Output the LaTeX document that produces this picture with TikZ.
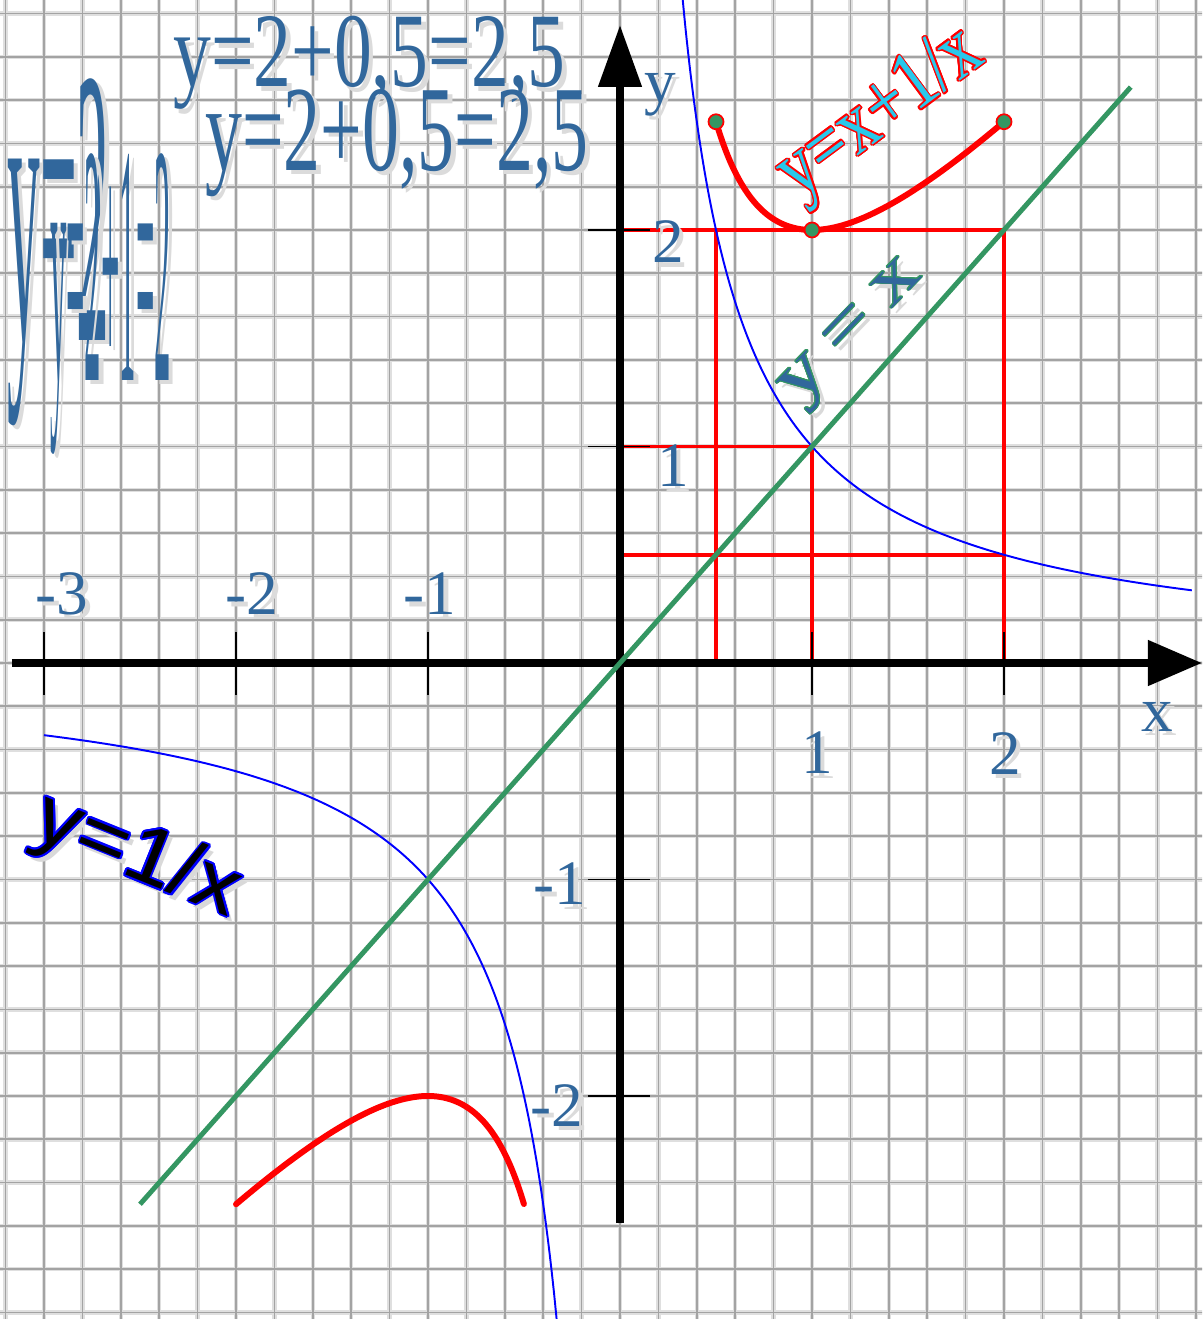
\documentclass[tikz,border=0pt]{standalone}
\usepackage{fontspec}
\setmainfont{Liberation Serif}
\newfontfamily\sansf{Liberation Sans}
\usepackage{contour}
\contournumber{16}
\usetikzlibrary{arrows.meta}

\definecolor{axblue}{RGB}{49,103,156}
\definecolor{lngreen}{RGB}{52,150,98}
\definecolor{lblcyan}{RGB}{40,200,235}

% blue label with a light shadow behind it
\newcommand{\shlbl}[4]{%
  \node[lbl, xshift=2.5pt, yshift=-2.5pt, text=black!14, #2] (#1s) at (#3) {#4};
  \node[lbl, #2] (#1) at (#3) {#4};}

\begin{document}
\begin{tikzpicture}[x=3.84cm, y=4.33cm,
    gridl/.style={gray!72, line width=1.0pt},
    gridh/.style={gray!25, line width=2.6pt},
    axis/.style={black, line width=4.5pt},
    tick/.style={black, line width=1.1pt},
    redl/.style={red, line width=2.1pt},
    redc/.style={red, line width=3.4pt, line cap=round},
    hyper/.style={blue, line width=1.1pt},
    diag/.style={lngreen, line width=2.8pt},
    dotn/.style={circle, fill=lngreen, draw=red, line width=1pt, minimum size=0.3cm, inner sep=0pt},
    lbl/.style={text=axblue, font=\fontsize{36}{36}\selectfont, inner sep=0pt}]

  \useasboundingbox (-3.2292,-3.0300) rectangle (3.0313,3.0624);
  \clip (-3.2292,-3.0300) rectangle (3.0313,3.0624);
  \fill[white] (-3.2292,-3.0300) rectangle (3.0313,3.0624);

  % squared paper
  \draw[gridh] (-3.4,-3.2) grid[xstep=0.2, ystep=0.2] (3.2,3.2);
  \draw[gridl] (-3.4,-3.2) grid[xstep=0.2, ystep=0.2] (3.2,3.2);

  % construction lines
  \draw[redl] (0,2) -- (2,2) -- (2,0);
  \draw[redl] (0.5,2) -- (0.5,0);
  \draw[redl] (0,1) -- (1,1) -- (1,0);
  \draw[redl] (0,0.5) -- (2,0.5);

  % axes
  \coordinate (xl) at (-3.167,0);
  \coordinate (xr) at (3.031,0);
  \coordinate (yb) at (0,-2.587);
  \coordinate (yt) at (0,2.947);
  \draw[axis, -{Triangle[length=1.08cm, width=0.88cm]}] (xl) -- (xr);
  \draw[axis, -{Triangle[length=1.24cm, width=0.84cm]}] (yb) -- (yt);
  \foreach \t in {-3,-2,-1,1,2}
    \draw[tick] (\t,0.143) -- (\t,-0.149);
  \foreach \t in {-2,-1,1,2}
    \draw[tick] (-0.167,\t) -- (0.156,\t);

  % graphs
  \draw[hyper] plot[domain=-3:-0.32, samples=120, smooth] (\x,{1/\x});
  \draw[hyper] plot[domain=0.32:2.98, samples=120, smooth] (\x,{1/\x});
  \coordinate (g1) at (-2.5,-2.5);
  \coordinate (g2) at (2.66,2.66);
  \draw[diag] (g1) -- (g2);
  \draw[redc] plot[domain=0.5:2, samples=80, smooth] (\x,{\x+1/\x});
  \draw[redc] plot[domain=-2:-0.5, samples=80, smooth] (\x,{\x+1/\x});

  \node[dotn] (p1) at (0.5,2.5) {};
  \node[dotn] (p2) at (1,2) {};
  \node[dotn] (p3) at (2,2.5) {};

  % axis labels
  \shlbl{lm3}{}{-2.906,0.319}{-3}
  \shlbl{lm2}{}{-1.917,0.319}{-2}
  \shlbl{lm1}{}{-0.990,0.319}{-1}
  \shlbl{lx1}{}{1.026,-0.416}{1}
  \shlbl{lx2}{}{2.005,-0.416}{2}
  \shlbl{lx}{}{2.797,-0.249}{x}
  \shlbl{ly}{}{0.208,2.624}{y}
  \shlbl{ly2}{}{0.250,1.945}{2}
  \shlbl{ly1}{}{0.276,0.910}{1}
  \shlbl{lym1}{}{-0.312,-1.021}{-1}
  \shlbl{lym2}{}{-0.328,-2.042}{-2}

  % overlapping value labels
  \shlbl{ta}{anchor=base west, font=\fontsize{43}{43}\selectfont, yscale=1.4}{-2.328,2.661}{y=2+0,5=2,5}
  \shlbl{tb}{anchor=base west, font=\fontsize{42}{42}\selectfont, yscale=1.65}{-2.161,2.277}{y=2+0,5=2,5}
  \shlbl{la}{anchor=base west, font=\fontsize{30}{30}\selectfont, xscale=1.24, yscale=7.5}{-3.193,1.49}{y=2}
  \shlbl{lb}{anchor=base west, font=\fontsize{30}{30}\selectfont, xscale=0.62, yscale=6.5}{-2.969,1.307}{y=2+1=2}

  % curve names
  \node[lbl, rotate=36.5, xscale=1.3, yscale=1.6, text=lblcyan, font=\fontsize{30}{30}\selectfont] (fxl)
    at (1.365,2.527) {\contourlength{0.6pt}\contour{red}{y=x+1/x}};
  \node[lbl, xshift=3pt, yshift=-3pt, text=black!15, rotate=46, xscale=1.3,
    font=\fontsize{40}{40}\selectfont] (dls) at (1.224,1.515) {y\hspace{.2em}=\hspace{.2em}x};
  \node[lbl, rotate=46, xscale=1.3, font=\fontsize{40}{40}\selectfont] (dl) at (1.224,1.515)
    {\contourlength{0.45pt}\contour{lngreen}{y\hspace{.2em}=\hspace{.2em}x}};
  \node[lbl, xshift=3pt, yshift=-3pt, text=black!15, rotate=-22, xscale=1.1,
    font=\sansf\fontsize{46}{46}\selectfont] (hls) at (-2.516,-0.901) {y=1/x};
  \node[lbl, rotate=-22, xscale=1.1, text=black, font=\sansf\fontsize{46}{46}\selectfont] (hl)
    at (-2.516,-0.901) {\contourlength{1pt}\contour{blue}{y=1/x}};

\end{tikzpicture}
\end{document}
